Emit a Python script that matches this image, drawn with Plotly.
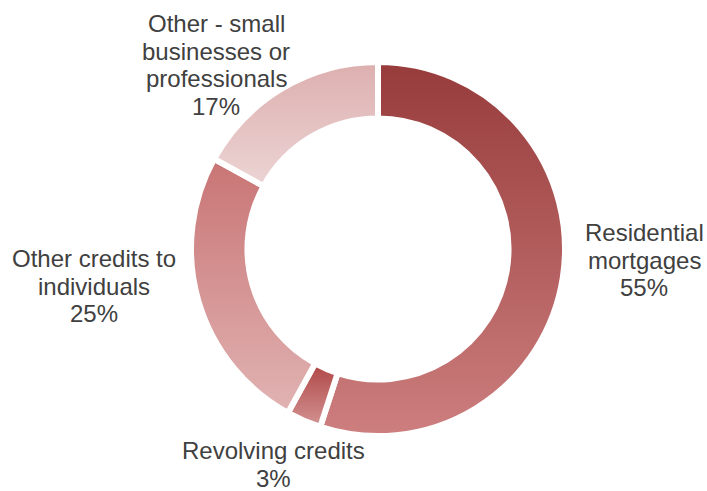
import json
import plotly.graph_objects as go

labels = ["Residential<br>mortgages", "Revolving credits", "Other credits to<br>individuals",
          "Other - small<br>businesses or<br>professionals"]
values = [55, 3, 25, 17]
top_colors = ["#973B3B", "#B04646", "#C97474", "#DDAFAF"]
bottom_colors = ["#CD7E7E", "#D39393", "#E1B3B3", "#ECD4D4"]
mid_colors = ["#B25C5C", "#C26D6D", "#D59494", "#E5C2C2"]

W, H = 707, 491
ML, MR, MT, MB = 49, 0, 62, 55

fig = go.Figure(go.Pie(
    labels=labels,
    values=values,
    textinfo="none",
    hole=0.698,
    sort=False,
    direction="clockwise",
    rotation=0,
    marker=dict(colors=mid_colors, line=dict(color="white", width=6)),
    showlegend=False,
    hoverinfo="label+percent",
))

# label placement (pixel centre x, centre y of first line)
label_pos = [(644, 232.5), (273, 450.5), (94, 258.5), (216, 23.5)]
line_step = 27.5


def to_paper(px, py):
    return (px - ML) / (W - ML - MR), (H - MB - py) / (H - MT - MB)


annotations = []
for lab, val, (cx, cy) in zip(labels, values, label_pos):
    lines = lab.split("<br>") + [f"{val}%"]
    for k, line in enumerate(lines):
        x, y = to_paper(cx, cy + k * line_step)
        annotations.append(dict(
            text=line, x=x, y=y, xref="paper", yref="paper",
            xanchor="center", yanchor="middle", showarrow=False, borderpad=0,
            font=dict(family="Liberation Sans, Arial", size=24, color="#404040"),
        ))

fig.update_layout(
    width=W, height=H,
    margin=dict(l=ML, r=MR, t=MT, b=MB),
    paper_bgcolor="white",
    plot_bgcolor="white",
    annotations=annotations,
)

grad = json.dumps({"top": top_colors, "bottom": bottom_colors})
post = """
document.body.style.margin = '0';
document.body.style.overflow = 'hidden';
var gd = document.getElementById('{plot_id}');
var G = %s;
function applyGrad(){
  var svg = gd.querySelector('svg.main-svg');
  if(!svg) return;
  var ns = 'http://www.w3.org/2000/svg';
  var defs = svg.querySelector('defs');
  if(!defs){ defs = document.createElementNS(ns,'defs'); svg.insertBefore(defs, svg.firstChild); }
  for (var i=0;i<G.top.length;i++){
    var id = 'slicegrad'+i;
    if(!svg.querySelector('#'+id)){
      var lg = document.createElementNS(ns,'linearGradient');
      lg.setAttribute('id', id);
      lg.setAttribute('x1','0'); lg.setAttribute('y1','0');
      lg.setAttribute('x2','0'); lg.setAttribute('y2','1');
      var s1 = document.createElementNS(ns,'stop');
      s1.setAttribute('offset','0'); s1.setAttribute('stop-color', G.top[i]);
      var s2 = document.createElementNS(ns,'stop');
      s2.setAttribute('offset','1'); s2.setAttribute('stop-color', G.bottom[i]);
      lg.appendChild(s1); lg.appendChild(s2); defs.appendChild(lg);
    }
  }
  var paths = gd.querySelectorAll('g.slice path.surface');
  paths.forEach(function(p,i){ p.style.fill = 'url(#slicegrad'+i+')'; });
}
applyGrad();
gd.on('plotly_afterplot', applyGrad);
""" % grad

fig.write_html("out.html", post_script=post, config={"displayModeBar": False})
